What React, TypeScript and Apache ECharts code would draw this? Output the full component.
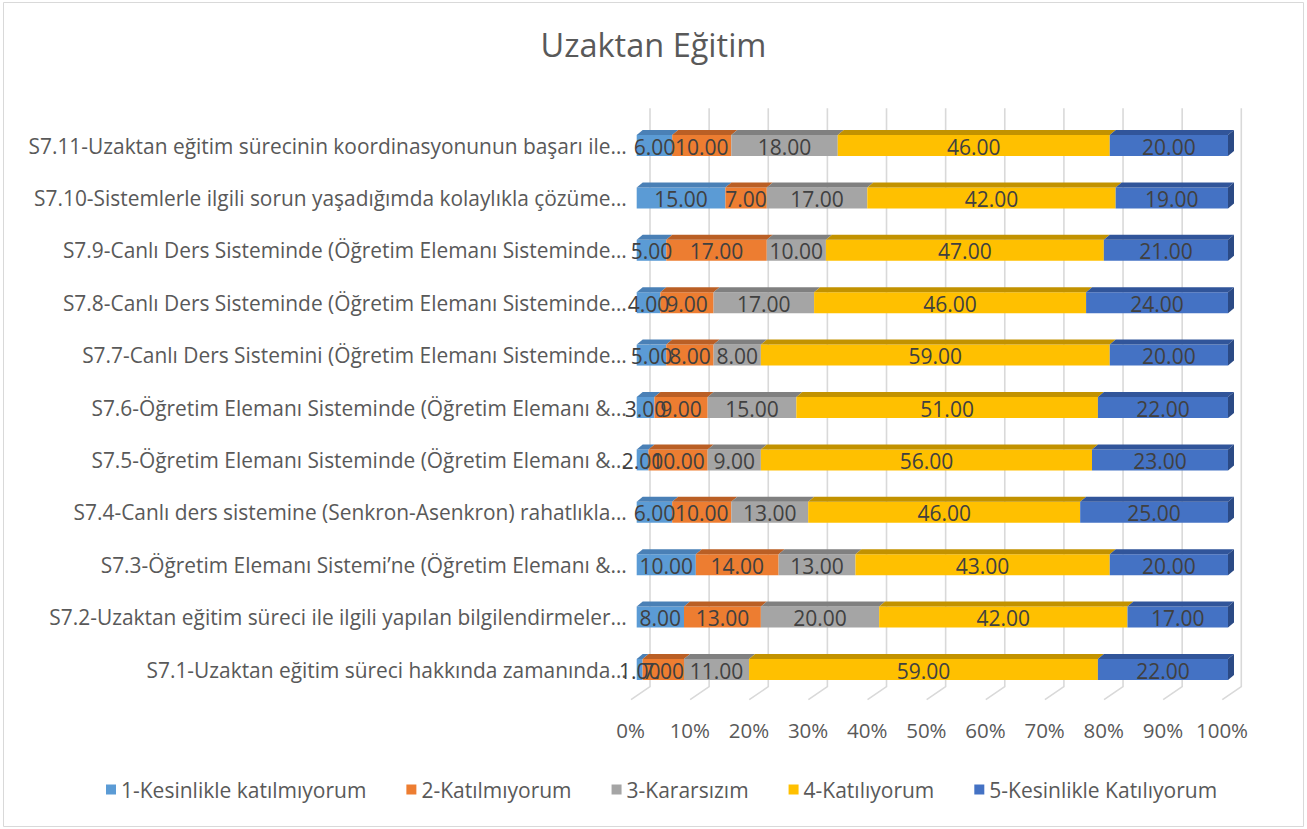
import React, { useEffect, useRef } from "react";
import * as echarts from "echarts";

const categories = [
  "S7.1-Uzaktan eğitim süreci hakkında zamanında…",
  "S7.2-Uzaktan eğitim süreci ile ilgili yapılan bilgilendirmeler…",
  "S7.3-Öğretim Elemanı Sistemi’ne (Öğretim Elemanı &…",
  "S7.4-Canlı ders sistemine (Senkron-Asenkron) rahatlıkla…",
  "S7.5-Öğretim Elemanı Sisteminde (Öğretim Elemanı &…",
  "S7.6-Öğretim Elemanı Sisteminde (Öğretim Elemanı &…",
  "S7.7-Canlı Ders Sistemini (Öğretim Elemanı Sisteminde…",
  "S7.8-Canlı Ders Sisteminde (Öğretim Elemanı Sisteminde…",
  "S7.9-Canlı Ders Sisteminde (Öğretim Elemanı Sisteminde…",
  "S7.10-Sistemlerle ilgili sorun yaşadığımda kolaylıkla çözüme…",
  "S7.11-Uzaktan eğitim sürecinin koordinasyonunun başarı ile…",
];

const seriesNames = [
  "1-Kesinlikle katılmıyorum",
  "2-Katılmıyorum",
  "3-Kararsızım",
  "4-Katılıyorum",
  "5-Kesinlikle Katılıyorum",
];

const s1 = [1, 8, 10, 6, 2, 3, 5, 4, 5, 15, 6];
const s2 = [7, 13, 14, 10, 10, 9, 8, 9, 17, 7, 10];
const s3 = [11, 20, 13, 13, 9, 15, 8, 17, 10, 17, 18];
const s4 = [59, 42, 43, 46, 56, 51, 59, 46, 47, 42, 46];
const s5 = [22, 17, 20, 25, 23, 22, 20, 24, 21, 19, 20];

const xTicks = [0, 10, 20, 30, 40, 50, 60, 70, 80, 90, 100];

const colors = ["#5B9BD5", "#ED7D31", "#A5A5A5", "#FFC000", "#4472C4"];
const topColors = ["#4A80B6", "#BA5F25", "#808080", "#C29200", "#31559A"];
const sideColors = ["#3F6E9C", "#A05120", "#6E6E6E", "#A87F00", "#2B4A85"];

const FONT = "'Open Sans', 'Noto Sans', sans-serif";
const DX = 6;
const DY = 5;

export default function App() {
  const ref = useRef<HTMLDivElement>(null);

  useEffect(() => {
    if (!ref.current) return;
    const chart = echarts.init(ref.current, undefined, { renderer: "svg" });

    const allSeries = [s1, s2, s3, s4, s5];
    const starts: number[] = categories.map(() => 0);

    const barSeries = allSeries.map((vals, si) => {
      const data = vals.map((v, ci) => {
        const st = starts[ci];
        starts[ci] += v;
        return [ci, st, st + v, v];
      });
      return {
        type: "custom",
        name: seriesNames[si],
        itemStyle: { color: colors[si] },
        encode: { x: [1, 2], y: 0 },
        clip: false,
        z: 3,
        data,
        renderItem: (params: any, api: any) => {
          const cat = api.value(0);
          const st = api.value(1);
          const en = api.value(2);
          const val = api.value(3);
          const p0 = api.coord([st, cat]);
          const p1 = api.coord([en, cat]);
          const h = api.size([0, 1])[1] * 0.4;
          const x0 = p0[0];
          const x1 = p1[0];
          const yT = p0[1] - h / 2;
          const yB = p0[1] + h / 2;
          const children: any[] = [
            {
              type: "rect",
              shape: { x: x0, y: yT, width: x1 - x0, height: h },
              style: { fill: colors[si] },
            },
            {
              type: "polygon",
              shape: {
                points: [
                  [x0, yT],
                  [x0 + DX, yT - DY],
                  [x1 + DX, yT - DY],
                  [x1, yT],
                ],
              },
              style: { fill: topColors[si] },
            },
          ];
          if (si === allSeries.length - 1) {
            children.push({
              type: "polygon",
              shape: {
                points: [
                  [x1, yT],
                  [x1 + DX, yT - DY],
                  [x1 + DX, yB - DY],
                  [x1, yB],
                ],
              },
              style: { fill: sideColors[si] },
            });
          }
          children.push({
            type: "text",
            z2: 100,
            style: {
              text: val.toFixed(2),
              x: (x0 + x1) / 2,
              y: p0[1] + 1,
              align: "center",
              verticalAlign: "middle",
              fill: "#404040",
              fontSize: 21,
              fontFamily: FONT,
            },
          });
          return { type: "group", children };
        },
      };
    });

    const gridSeries = {
      type: "custom",
      name: "grid",
      silent: true,
      clip: false,
      z: 1,
      encode: { x: 0, y: 1 },
      data: xTicks.map((t) => [t, 0]),
      renderItem: (params: any, api: any) => {
        const x = api.coord([api.value(0), 0])[0];
        const cs = params.coordSys;
        const top = cs.y;
        const bottom = cs.y + cs.height;
        return {
          type: "polyline",
          shape: {
            points: [
              [x + 13.3, top - 11],
              [x + 13.3, bottom - 9],
              [x - 5.7, bottom + 4],
            ],
          },
          style: { stroke: "#D9D9D9", lineWidth: 1.6, fill: "none" },
        };
      },
    };

    chart.setOption({
      animation: false,
      backgroundColor: "#ffffff",
      title: {
        text: "Uzaktan Eğitim",
        left: "center",
        top: 28,
        padding: 0,
        textStyle: {
          fontSize: 32.5,
          fontWeight: "normal",
          color: "#595959",
          fontFamily: FONT,
        },
      },
      legend: {
        data: seriesNames,
        left: 101,
        top: 774,
        icon: "rect",
        itemWidth: 10,
        itemHeight: 10,
        itemGap: 40,
        textStyle: { fontSize: 21, color: "#595959", fontFamily: FONT },
      },
      grid: { left: 636.7, right: 79, top: 119.3, height: 576.4 },
      xAxis: {
        type: "value",
        min: 0,
        max: 100,
        interval: 10,
        axisLine: { show: false },
        axisTick: { show: false },
        splitLine: { show: false },
        axisLabel: {
          formatter: "{value}%",
          margin: 24,
          padding: [0, 12, 0, 0],
          fontSize: 20.5,
          color: "#595959",
          fontFamily: FONT,
        },
      },
      yAxis: {
        type: "category",
        data: categories,
        axisLine: { show: false },
        axisTick: { show: false },
        splitLine: { show: false },
        axisLabel: {
          interval: 0,
          margin: 10,
          fontSize: 20.9,
          color: "#595959",
          fontFamily: FONT,
        },
      },
      graphic: [
        {
          type: "rect",
          shape: { x: 3.5, y: 2.5, width: 1300, height: 824 },
          style: { fill: "none", stroke: "#D9D9D9", lineWidth: 1 },
          silent: true,
        },
      ],
      series: [gridSeries, ...barSeries],
    });

    return () => chart.dispose();
  }, []);

  return (
    <div
      ref={ref}
      style={{
        position: "fixed",
        left: 0,
        top: 0,
        width: 1307,
        height: 829,
        background: "#fff",
      }}
    />
  );
}
